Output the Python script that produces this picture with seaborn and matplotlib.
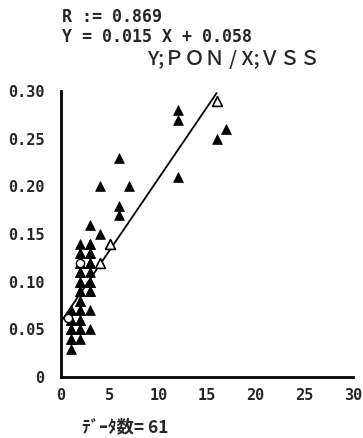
import numpy as np
import pandas as pd
import matplotlib
matplotlib.use("Agg")
import matplotlib.pyplot as plt
import seaborn as sns

# =============================
# DATA
# =============================
vss_filled = [1, 1, 1, 1, 1, 1, 1, 1, 1, 1, 1,
              2, 2, 2, 2, 2, 2, 2, 2, 2, 2, 2, 2, 2, 2, 2, 2, 2, 2, 2, 2,
              3, 3, 3, 3, 3, 3, 3, 3, 3, 3, 3, 3, 3, 3, 3,
              4, 4, 6, 6, 6, 7, 12, 12, 12, 16, 17]
pon_filled = [0.03, 0.04, 0.04, 0.05, 0.05, 0.05, 0.06, 0.06, 0.06, 0.07, 0.07,
              0.04, 0.05, 0.05, 0.06, 0.06, 0.07, 0.07, 0.08, 0.08, 0.09, 0.09, 0.10, 0.10, 0.11, 0.11,
              0.12, 0.12, 0.13, 0.13, 0.14,
              0.05, 0.07, 0.09, 0.09, 0.10, 0.10, 0.11, 0.12, 0.12, 0.12, 0.13, 0.13, 0.14, 0.14, 0.16,
              0.15, 0.20, 0.17, 0.18, 0.23, 0.20, 0.21, 0.27, 0.28, 0.25, 0.26]

vss_open = [4, 5, 16]
pon_open = [0.12, 0.14, 0.29]

vss_circle = [0.7, 2]
pon_circle = [0.062, 0.12]

r_value = 0.869
slope = 0.015
intercept = 0.058
fit_x = [0, 16]
n_data = 61

x_ticks = [0, 5, 10, 15, 20, 25, 30]
y_ticks = [0, 0.05, 0.10, 0.15, 0.20, 0.25, 0.30]
y_tick_labels = ["0", "0.05", "0.10", "0.15", "0.20", "0.25", "0.30"]

filled = pd.DataFrame({"VSS": vss_filled, "PON": pon_filled})
opened = pd.DataFrame({"VSS": vss_open, "PON": pon_open})
circles = pd.DataFrame({"VSS": vss_circle, "PON": pon_circle})
fit = pd.DataFrame({"VSS": fit_x})
fit["PON"] = slope * fit["VSS"] + intercept

# =============================
# PLOT
# =============================
sns.set_style("white")
plt.rcParams["font.family"] = ["DejaVu Sans Mono", "Noto Sans CJK JP"]

fig = plt.figure(figsize=(3.63, 4.38), dpi=100)
ax = fig.add_axes([0.168, 0.139, 0.804, 0.653])

sns.lineplot(data=fit, x="VSS", y="PON", color="black", linewidth=1.3, ax=ax)
sns.scatterplot(data=filled, x="VSS", y="PON", marker="^", s=50, color="black",
                edgecolor="black", linewidth=0.5, ax=ax, zorder=3)
sns.scatterplot(data=opened, x="VSS", y="PON", marker="^", s=50, facecolor="white",
                edgecolor="black", linewidth=1.2, ax=ax, zorder=4)
sns.scatterplot(data=circles, x="VSS", y="PON", marker="o", s=35, facecolor="white",
                edgecolor="black", linewidth=1.0, ax=ax, zorder=4)

ax.set_xlim(0, 30)
ax.set_ylim(0, 0.30)
ax.set_xticks(x_ticks)
ax.set_yticks(y_ticks)
ax.set_yticklabels(y_tick_labels)
ax.set_xlabel("")
ax.set_ylabel("")
ax.tick_params(direction="in", length=4, width=1.5, labelsize=11)
ax.tick_params(axis="x", pad=8)
ax.tick_params(axis="y", pad=12)
for lab in ax.get_xticklabels() + ax.get_yticklabels():
    lab.set_fontweight("bold")

sns.despine(ax=ax)
ax.spines["left"].set_linewidth(2)
ax.spines["bottom"].set_linewidth(2)
ax.spines["left"].set_color("black")
ax.spines["bottom"].set_color("black")

fig.text(0.171, 0.962, f"R := {r_value}", fontsize=12, fontweight="bold", va="center")
fig.text(0.171, 0.916, f"Y = {slope} X + {intercept}", fontsize=12, fontweight="bold", va="center")
fig.text(0.405, 0.864, "Y;ＰＯＮ / X;ＶＳＳ", fontsize=14.5, fontweight="medium",
         family=["Noto Sans CJK JP", "DejaVu Sans"], va="center")
fig.text(0.226, 0.025, f"ﾃﾞｰﾀ数= {n_data}", fontsize=12.5, fontweight="bold", va="center",
         family=["Noto Sans CJK JP", "DejaVu Sans"])

fig.savefig("out.png", dpi=100)
